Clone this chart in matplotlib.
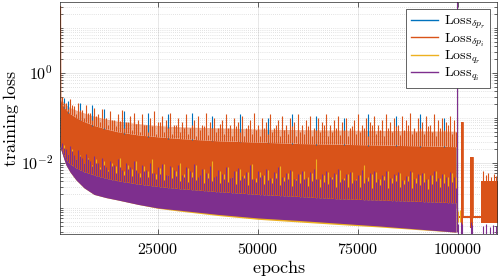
import numpy as np
import matplotlib
matplotlib.use("Agg")
import matplotlib.pyplot as plt
from matplotlib.lines import Line2D
from matplotlib.ticker import FixedLocator, LogLocator, FuncFormatter, NullFormatter

plt.rcParams['mathtext.fontset'] = 'cm'
plt.rcParams['font.family'] = 'serif'
plt.rcParams['font.serif'] = ['DejaVu Serif']

# ---------------- data ----------------
labels = [r'$\mathrm{Loss}_{\delta p_r}$', r'$\mathrm{Loss}_{\delta p_i}$',
          r'$\mathrm{Loss}_{q_r}$', r'$\mathrm{Loss}_{q_i}$']
colors = [(0.0, 0.447, 0.741), (0.85, 0.325, 0.098),
          (0.929, 0.694, 0.125), (0.494, 0.184, 0.556)]

ep = [500, 700, 1000, 1500, 2000, 3000, 4500, 6500, 9000, 12000, 15000,
      20000, 25000, 30000, 40000, 50000, 60000, 70000, 80000, 90000, 99500]

# orange / blue dense band
red_hi = [0.29, 0.25, 0.20, 0.175, 0.152, 0.125, 0.102, 0.083, 0.068, 0.057, 0.049,
          0.042, 0.038, 0.035, 0.031, 0.029, 0.027, 0.026, 0.025, 0.024, 0.023]
red_mid = [0.30, 0.28, 0.25, 0.22, 0.20, 0.17, 0.15, 0.13, 0.11, 0.095, 0.085,
           0.075, 0.068, 0.064, 0.060, 0.057, 0.055, 0.054, 0.053, 0.052, 0.051]
red_lo = [0.026, 0.021, 0.017, 0.013, 0.010, 0.0075, 0.0055, 0.0042, 0.0034, 0.0030, 0.0027,
          0.0023, 0.0021, 0.0019, 0.0017, 0.0015, 0.0014, 0.0013, 0.0012, 0.0011, 0.0010]
blue_hi = [0.27, 0.23, 0.19, 0.165, 0.145, 0.118, 0.097, 0.080, 0.065, 0.054, 0.047,
           0.040, 0.036, 0.033, 0.030, 0.028, 0.026, 0.025, 0.024, 0.023, 0.022]
blue_lo = red_lo

# purple / yellow lower band
purple_hi = [0.028, 0.024, 0.020, 0.015, 0.012, 0.0095, 0.0078, 0.0064, 0.0054, 0.0046, 0.0040,
             0.0034, 0.0030, 0.0027, 0.0023, 0.0020, 0.0018, 0.0016, 0.0015, 0.0014, 0.0013]
purple_lo = [0.024, 0.020, 0.0167, 0.012, 0.009, 0.0063, 0.0042, 0.0028, 0.0020, 0.0017, 0.0015,
             0.0012, 0.0010, 0.0009, 0.00072, 0.00060, 0.00053, 0.00046, 0.00040, 0.00034, 0.00029]
yellow_hi = purple_hi
yellow_lo = [0.024, 0.020, 0.0167, 0.012, 0.009, 0.0063, 0.0042, 0.0028, 0.0020, 0.0017, 0.0015,
             0.0012, 0.00098, 0.00086, 0.00068, 0.00056, 0.00049, 0.00043, 0.00038, 0.00033, 0.00029]

# spikes (one every 1000 epochs, two interleaved sets)
spk_ep_a = list(range(1000, 100000, 1000))
spk_ep_b = list(range(1500, 100000, 1000))
red_spk = [0.30, 0.22, 0.26, 0.18, 0.21, 0.15, 0.19, 0.13, 0.17, 0.12,
           0.16, 0.10, 0.14, 0.09, 0.12, 0.15, 0.08, 0.11, 0.13, 0.09,
           0.12, 0.07, 0.10, 0.14, 0.08, 0.11, 0.09, 0.13, 0.07, 0.10,
           0.08, 0.12, 0.06, 0.09, 0.11, 0.07, 0.13, 0.08, 0.10, 0.06,
           0.09, 0.12, 0.07, 0.10, 0.08, 0.11, 0.06, 0.09, 0.13, 0.07,
           0.10, 0.08, 0.12, 0.06, 0.09, 0.11, 0.07, 0.10, 0.08, 0.12,
           0.07, 0.09, 0.11, 0.06, 0.10, 0.08, 0.12, 0.07, 0.09, 0.11,
           0.08, 0.10, 0.06, 0.09, 0.12, 0.07, 0.10, 0.08, 0.11, 0.07,
           0.09, 0.12, 0.08, 0.10, 0.07, 0.11, 0.09, 0.13, 0.06, 0.10,
           0.08, 0.11, 0.07, 0.12, 0.09, 0.10, 0.08, 0.11, 0.09]
red_spk2 = [0.22, 0.16, 0.19, 0.12, 0.15, 0.10, 0.13, 0.09, 0.11, 0.08,
            0.10, 0.07, 0.09, 0.065, 0.085, 0.06, 0.08, 0.055, 0.075, 0.05,
            0.07, 0.05, 0.065, 0.045, 0.08, 0.05, 0.06, 0.045, 0.07, 0.05,
            0.06, 0.045, 0.07, 0.04, 0.055, 0.065, 0.042, 0.06, 0.05, 0.075,
            0.045, 0.06, 0.04, 0.065, 0.05, 0.04, 0.07, 0.045, 0.055, 0.04,
            0.06, 0.045, 0.05, 0.07, 0.04, 0.055, 0.045, 0.065, 0.04, 0.05,
            0.045, 0.065, 0.04, 0.055, 0.05, 0.07, 0.04, 0.05, 0.06, 0.042,
            0.055, 0.04, 0.065, 0.045, 0.05, 0.06, 0.04, 0.07, 0.045, 0.055,
            0.04, 0.06, 0.05, 0.065, 0.042, 0.055, 0.07, 0.045, 0.05, 0.06,
            0.045, 0.065, 0.05, 0.04, 0.06, 0.055, 0.07, 0.045, 0.05]
blue_spk_ep = [1500, 2500, 5500, 8500, 11500, 16500, 22500, 27500, 33500, 38500,
               45500, 52500, 58500, 64500, 71500, 77500, 84500, 90500, 96500]
blue_spk = [0.28, 0.24, 0.22, 0.19, 0.16, 0.14, 0.13, 0.12, 0.13, 0.11,
            0.12, 0.10, 0.12, 0.11, 0.10, 0.12, 0.11, 0.12, 0.10]
purple_spk = [0.028, 0.020, 0.024, 0.015, 0.019, 0.013, 0.016, 0.011, 0.014, 0.010,
              0.013, 0.008, 0.011, 0.009, 0.012, 0.007, 0.010, 0.008, 0.011, 0.006,
              0.009, 0.007, 0.010, 0.006, 0.008, 0.0095, 0.0055, 0.0085, 0.007, 0.009,
              0.0055, 0.008, 0.0065, 0.0095, 0.005, 0.0075, 0.006, 0.0085, 0.0048, 0.007,
              0.0058, 0.0082, 0.0047, 0.0068, 0.0076, 0.0052, 0.0064, 0.0088, 0.0045, 0.0066,
              0.0055, 0.0072, 0.0046, 0.0063, 0.0080, 0.0049, 0.0061, 0.0070, 0.0044, 0.0058,
              0.0068, 0.0047, 0.0062, 0.0075, 0.0043, 0.0056, 0.0066, 0.0049, 0.0060, 0.0072,
              0.0045, 0.0058, 0.0064, 0.0042, 0.0055, 0.0070, 0.0047, 0.0059, 0.0066, 0.0044,
              0.0053, 0.0068, 0.0046, 0.0057, 0.0063, 0.0041, 0.0052, 0.0065, 0.0045, 0.0056,
              0.0061, 0.0043, 0.0054, 0.0067, 0.0046, 0.0058, 0.0050, 0.0062, 0.0048]
purple_spk2 = [0.022, 0.016, 0.018, 0.012, 0.014, 0.010, 0.012, 0.0085, 0.010, 0.0075,
               0.009, 0.0065, 0.0085, 0.006, 0.008, 0.0055, 0.0075, 0.0052, 0.007, 0.005,
               0.0065, 0.0048, 0.006, 0.0045, 0.0058, 0.0042, 0.0055, 0.0047, 0.0052, 0.004,
               0.005, 0.0038, 0.0048, 0.0042, 0.0055, 0.0036, 0.0046, 0.004, 0.0052, 0.0035,
               0.0044, 0.0038, 0.005, 0.0034, 0.0042, 0.0046, 0.0033, 0.0045, 0.0038, 0.0048,
               0.0034, 0.0042, 0.0036, 0.0046, 0.0032, 0.004, 0.0044, 0.0031, 0.0041, 0.0036,
               0.0045, 0.0031, 0.0039, 0.0043, 0.003, 0.0038, 0.0034, 0.0044, 0.003, 0.0037,
               0.0041, 0.0029, 0.0036, 0.0042, 0.003, 0.0035, 0.0039, 0.0028, 0.0037, 0.0033,
               0.0042, 0.0028, 0.0035, 0.0039, 0.0029, 0.0034, 0.0040, 0.0028, 0.0036, 0.0032,
               0.0038, 0.0027, 0.0034, 0.0040, 0.0029, 0.0035, 0.0031, 0.0037, 0.0028]
yellow_spk = [0.025, 0.016, 0.020, 0.012, 0.015, 0.010, 0.013, 0.009, 0.012, 0.008,
              0.011, 0.007, 0.010, 0.0085, 0.013, 0.0065, 0.009, 0.0075, 0.011, 0.006,
              0.0085, 0.0068, 0.012, 0.0058, 0.0078, 0.0095, 0.0055, 0.0082, 0.0068, 0.010,
              0.0056, 0.0078, 0.0062, 0.0092, 0.0052, 0.0072, 0.0060, 0.011, 0.0050, 0.0068,
              0.0058, 0.0080, 0.0048, 0.0066, 0.0074, 0.0053, 0.0062, 0.0095, 0.0046, 0.0064,
              0.0055, 0.0070, 0.0047, 0.0060, 0.0085, 0.0050, 0.0059, 0.0068, 0.0045, 0.0057,
              0.0066, 0.0048, 0.0060, 0.012, 0.0044, 0.0055, 0.0064, 0.0050, 0.0058, 0.0070,
              0.0046, 0.0056, 0.0062, 0.0043, 0.0054, 0.0090, 0.0048, 0.0057, 0.0064, 0.0045,
              0.0052, 0.0066, 0.0047, 0.0055, 0.0061, 0.0042, 0.0051, 0.0063, 0.0046, 0.0055,
              0.0059, 0.0044, 0.0053, 0.0065, 0.0047, 0.0056, 0.0050, 0.0060, 0.0049]

# initial loss and restart at epoch ~100000
start_ep = [640, 700]
start_red = [30.0, 0.27]
reset_ep = 99800
reset_val = 40.0

# after the restart
red_post_ep = [99800, 100700, 101300, 103000, 103750, 105800, 110000]
red_post_hi = [6.6e-4, 0.08, 6.6e-4, 0.0137, 6.6e-4, 0.0040, 0.0040]
red_post_lo = [6.0e-4, 3.5e-4, 6.0e-4, 3.5e-4, 6.0e-4, 4.6e-4, 4.6e-4]
red_post_spk_ep = [106200, 106900, 107500, 108300, 109000, 109600]
red_post_spk = [0.0065, 0.0055, 0.0060, 0.0050, 0.0058, 0.0052]
yel_post_ep = [99800, 100100, 100400]
yel_post = [9.5e-4, 8.5e-4, 9.0e-4]
pur_post_ep = [99900, 100800, 101100, 103200, 103500, 106300, 107100, 107900, 108700, 109400]
pur_post = [4.5e-4, 5.0e-4, 4.5e-4, 5.0e-4, 4.2e-4, 4.0e-4, 4.4e-4, 3.8e-4, 4.2e-4, 3.9e-4]
pur_floor_post = 2.7e-4

# ---------------- figure ----------------
fig = plt.figure(figsize=(4.98, 2.80), dpi=100)
ax = fig.add_axes([60 / 498, 1 - 234 / 280, 437 / 498, 232 / 280])
ax.set_yscale('log')


def base(e_list, xs, lo):
    return np.exp(np.interp(e_list, xs, np.log(lo)))


lw = 0.8
# blue
ax.fill_between(ep, blue_lo, blue_hi, color=colors[0], lw=0)
ax.vlines(blue_spk_ep, base(blue_spk_ep, ep, blue_hi), blue_spk, color=colors[0], lw=lw)
# red
ax.fill_between(ep, red_hi, red_mid, color=colors[1], lw=0, alpha=0.45)
ax.fill_between(ep, red_lo, red_hi, color=colors[1], lw=0)
ax.vlines(spk_ep_a, base(spk_ep_a, ep, red_hi), red_spk, color=colors[1], lw=lw)
ax.vlines(spk_ep_b, base(spk_ep_b, ep, red_hi), red_spk2, color=colors[1], lw=lw)
ax.plot(start_ep, start_red, color=colors[1], lw=0.8)
ax.fill_between(red_post_ep, red_post_lo, red_post_hi, step='post', color=colors[1], lw=0)
ax.plot(red_post_ep, red_post_hi, drawstyle='steps-post', color=colors[1], lw=0.6)
ax.vlines(red_post_spk_ep, 0.0035, red_post_spk, color=colors[1], lw=lw)
# yellow
ax.fill_between(ep, yellow_lo, yellow_hi, color=colors[2], lw=0)
ax.vlines(spk_ep_b, base(spk_ep_b, ep, yellow_hi), yellow_spk, color=colors[2], lw=lw)
ax.vlines(yel_post_ep, 5e-4, yel_post, color=colors[2], lw=lw)
# purple
ax.fill_between(ep, purple_lo, purple_hi, color=colors[3], lw=0)
ax.vlines(spk_ep_a, base(spk_ep_a, ep, purple_hi), purple_spk, color=colors[3], lw=lw)
ax.vlines(spk_ep_b, base(spk_ep_b, ep, purple_hi), purple_spk2, color=colors[3], lw=lw)
ax.vlines(pur_post_ep, pur_floor_post, pur_post, color=colors[3], lw=lw)
ax.vlines([reset_ep], purple_lo[-1], reset_val, color=colors[3], lw=0.8)

ax.set_xlim(500, 109750)
ax.set_ylim(2.64e-4, 37.8)

# ticks & grid
ax.xaxis.set_major_locator(FixedLocator([25000, 50000, 75000, 100000]))
ax.xaxis.set_major_formatter(FuncFormatter(lambda v, p: r'$%d$' % v))
ax.yaxis.set_major_locator(FixedLocator([1e-2, 1e0]))
ax.yaxis.set_major_formatter(FuncFormatter(lambda v, p: r'$10^{%d}$' % round(np.log10(v))))
ax.yaxis.set_minor_locator(LogLocator(base=10, subs=np.arange(1, 10), numticks=50))
ax.yaxis.set_minor_formatter(NullFormatter())
ax.tick_params(which='both', direction='in', top=True, right=True, colors=(0.15, 0.15, 0.15),
               labelcolor='black', width=0.5)
ax.tick_params(which='major', length=3.5, labelsize=11.5, pad=5)
ax.tick_params(which='minor', length=2)
ax.grid(which='major', color=(0.15, 0.15, 0.15), alpha=0.15, lw=0.5, ls='-')
ax.grid(which='minor', axis='y', color=(0.15, 0.15, 0.15), alpha=0.25, lw=0.5, ls=(0, (1, 2)))
ax.set_axisbelow(True)
for s in ax.spines.values():
    s.set_color((0.15, 0.15, 0.15))
    s.set_linewidth(0.5)

ax.set_xlabel(r'$\mathrm{epochs}$', fontsize=13, labelpad=0)
ax.set_ylabel(r'$\mathrm{training\ loss}$', fontsize=13)
ax.yaxis.set_label_coords(-0.09, 0.5)

handles = [Line2D([], [], color=c, lw=1.0) for c in colors]
leg = ax.legend(handles, labels, loc='upper right', fontsize=10, frameon=True, fancybox=False,
                framealpha=1, edgecolor=(0.15, 0.15, 0.15), borderaxespad=0.5,
                handlelength=2.0, handletextpad=0.4, labelspacing=0.0, borderpad=0.35)
leg.get_frame().set_linewidth(0.5)

fig.savefig('out.png', dpi=100)
